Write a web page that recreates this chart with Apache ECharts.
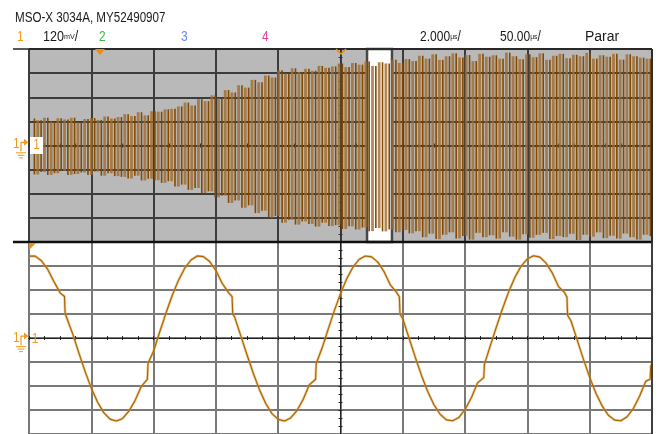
<!DOCTYPE html>
<html>
<head>
<meta charset="utf-8">
<script src="https://cdn.jsdelivr.net/npm/echarts@6/dist/echarts.min.js"></script>
<style>
html, body { margin: 0; padding: 0; background: #fff; }
#chart { width: 670px; height: 434px; }
</style>
</head>
<body>
<div id="chart"></div>
<script>
// upper trace: extreme value reached by each cycle (div), left to right
var topPeaks = [1.12, 1.05, 1.15, 0.98, 1.13, 1.08, 1.15, 0.95, 1.1, 1.14,
  1.06, 1.2, 1.12, 1.18, 1.3, 1.22, 1.38, 1.25, 1.42, 1.4, 1.5,
  1.52, 1.62, 1.78, 1.66, 1.92, 1.84, 2.08, 1.96, 2.3, 2.2,
  2.5, 2.4, 2.72, 2.62, 2.9, 2.82, 3.12, 2.98, 3.2, 3.05, 3.18,
  3.1, 3.3, 3.22, 3.28, 3.4, 3.25, 3.42, 3.35, 3.48, 3.3, 3.45, 3.4,
  3.55, 3.42, 3.58, 3.5,
  3.72, 3.6, 3.78, 3.55, 3.7, 3.82, 3.65, 3.75, 3.5, 3.8, 3.68, 3.74,
  3.6, 3.85, 3.7, 3.58, 3.78, 3.66, 3.82, 3.55, 3.72, 3.8, 3.62, 3.76,
  3.7, 3.84, 3.6, 3.74, 3.68, 3.8, 3.56, 3.78, 3.7, 3.64, 3.6];
var topTroughs = [-1.2, -1.1, -1.22, -1.15, -1.05, -1.22, -1.18, -1.12, -1.22, -1.08,
  -1.25, -1.15, -1.27, -1.3, -1.37, -1.25, -1.45, -1.38, -1.44, -1.55, -1.48,
  -1.7, -1.62, -1.84, -1.76, -1.98, -1.9, -2.15, -2.08, -2.38, -2.28,
  -2.58, -2.48, -2.8, -2.7, -3.0, -2.92, -3.2, -3.08, -3.28, -3.15, -3.25,
  -3.36, -3.2, -3.34, -3.3, -3.46, -3.35, -3.48, -3.4, -3.55, -3.42, -3.56, -3.48,
  -3.6, -3.5, -3.64, -3.55,
  -3.8, -3.65, -3.88, -3.7, -3.6, -3.85, -3.75, -3.9, -3.62, -3.8, -3.72, -3.86,
  -3.6, -3.78, -3.9, -3.68, -3.82, -3.7, -3.62, -3.88, -3.75, -3.8, -3.66, -3.92,
  -3.7, -3.78, -3.6, -3.84, -3.74, -3.86, -3.65, -3.8, -3.9, -3.7, -3.76];
var topStart = -247;     // us
var topPeriod = 5.373;   // us per cycle

// zoom window in the upper view (us)
var zoomWindow = [21.3, 41.3];

// lower trace: [time us, div]
var zoomTrace = [
  [-10.0, 3.41], [-9.8, 3.41], [-9.6, 3.22], [-9.4, 2.86], [-9.2, 2.35], [-9.0, 1.88],
  [-8.86, 1.73], [-8.84, 1.02], [-8.8, 0.97], [-8.6, 0.18], [-8.4, -0.62], [-8.2, -1.39],
  [-8.0, -2.09], [-7.8, -2.67], [-7.6, -3.11], [-7.4, -3.38], [-7.2, -3.46], [-7.0, -3.36],
  [-6.8, -3.06], [-6.6, -2.62], [-6.4, -2.03], [-6.2, -1.72], [-6.18, -1.06], [-6.0, -0.54],
  [-5.8, 0.27], [-5.6, 1.05], [-5.4, 1.78], [-5.2, 2.41], [-5.0, 2.91], [-4.8, 3.25],
  [-4.6, 3.42], [-4.4, 3.39], [-4.2, 3.19], [-4.0, 2.81], [-3.8, 2.28], [-3.6, 1.9],
  [-3.48, 1.72], [-3.46, 1.0], [-3.4, 0.88], [-3.2, 0.09], [-3.0, -0.71], [-2.8, -1.47],
  [-2.6, -2.16], [-2.4, -2.73], [-2.2, -3.15], [-2.0, -3.39], [-1.8, -3.46], [-1.6, -3.33],
  [-1.4, -3.03], [-1.2, -2.56], [-1.0, -1.95], [-0.8, -1.72], [-0.78, -1.06], [-0.6, -0.45],
  [-0.4, 0.35], [-0.2, 1.13], [0.0, 1.85], [0.2, 2.47], [0.4, 2.95], [0.6, 3.28],
  [0.8, 3.42], [1.0, 3.38], [1.2, 3.16], [1.4, 2.76], [1.6, 2.21], [1.8, 1.9],
  [1.89, 1.72], [1.91, 1.0], [2.0, 0.80], [2.2, 0.0], [2.4, -0.80], [2.6, -1.56],
  [2.8, -2.23], [3.0, -2.78], [3.2, -3.18], [3.4, -3.41], [3.6, -3.45], [3.8, -3.31],
  [4.0, -2.98], [4.2, -2.49], [4.4, -1.87], [4.6, -1.65], [4.62, -1.1], [4.8, -0.36],
  [5.0, 0.44], [5.2, 1.22], [5.4, 1.93], [5.6, 2.53], [5.8, 3.0], [6.0, 3.30],
  [6.2, 3.43], [6.4, 3.37], [6.6, 3.12], [6.8, 2.71], [7.0, 2.14], [7.2, 1.88],
  [7.27, 1.70], [7.29, 0.95], [7.4, 0.71], [7.6, -0.09], [7.8, -0.89], [8.0, -1.64],
  [8.2, -2.30], [8.4, -2.83], [8.6, -3.22], [8.8, -3.42], [9.0, -3.45], [9.2, -3.28],
  [9.4, -2.94], [9.6, -2.43], [9.8, -1.80], [9.94, -1.72], [9.96, -1.18], [10.0, -1.06]
];

// upper waveform drawn as its edges: falling (peak -> trough) and rising (trough -> next peak)
var fallEdges = [];
var riseEdges = [];
for (var k = 0; k < topPeaks.length; k++) {
  var t = topStart + k * topPeriod;
  fallEdges.push([t + topPeriod / 4, topPeaks[k], topTroughs[k]]);
  if (k + 1 < topPeaks.length) {
    riseEdges.push([t + topPeriod * 3 / 4, topTroughs[k], topPeaks[k + 1]]);
  }
}

var orange = '#f29a1f';
var hdrFont = '"Liberation Sans", Arial, sans-serif';

function xAxisDef(grid, min, max, step, pos, split, gridColor, axisColor) {
  return {
    type: 'value', gridIndex: grid, min: min, max: max, interval: step, position: pos,
    axisLabel: { show: false },
    axisLine: { show: true, onZero: true, lineStyle: { color: axisColor, width: 1 } },
    axisTick: { show: true, length: 2, lineStyle: { color: axisColor } },
    minorTick: { show: true, splitNumber: 4, length: 2, lineStyle: { color: axisColor } },
    splitLine: { show: split, lineStyle: { color: gridColor, width: 2 } }
  };
}
function yAxisDef(grid, pos, split, gridColor, axisColor) {
  return {
    type: 'value', gridIndex: grid, min: -4, max: 4, interval: 1, position: pos,
    axisLabel: { show: false },
    axisLine: { show: true, onZero: true, lineStyle: { color: axisColor, width: 1 } },
    axisTick: { show: true, length: 2, lineStyle: { color: axisColor } },
    minorTick: { show: true, splitNumber: 3, length: 2, lineStyle: { color: axisColor } },
    splitLine: { show: split, lineStyle: { color: gridColor, width: 2 } }
  };
}

function edgeSeries(data, color, width, z) {
  return {
    type: 'custom', xAxisIndex: 0, yAxisIndex: 0, data: data, z: z, silent: true,
    encode: { x: 0, y: [1, 2] },
    renderItem: function (params, api) {
      var a = api.coord([api.value(0), api.value(1)]);
      var b = api.coord([api.value(0), api.value(2)]);
      return { type: 'line', shape: { x1: a[0], y1: a[1], x2: b[0], y2: b[1] },
        style: { stroke: color, lineWidth: width } };
    }
  };
}

// header text, squeezed horizontally like the scope font
function hdr(txt, x, y, color, sx, rich) {
  return { type: 'text', z: 50, x: x, y: y, scaleX: sx,
    style: { text: txt, x: 0, y: 0, fill: color, font: '14px ' + hdrFont, verticalAlign: 'middle', rich: rich } };
}
var unitRich = { u: { fontSize: 8, fill: '#1a1a1a', fontFamily: hdrFont } };

// channel 1 ground marker at the left
function chMarker(cy) {
  return [
    { type: 'text', z: 50, x: 13, y: cy - 1, scaleX: 0.85, style: { text: '1', x: 0, y: 0, fill: orange, font: '14px ' + hdrFont, verticalAlign: 'middle' } },
    { type: 'polyline', z: 50, shape: { points: [[21, cy + 6], [21, cy - 3], [24, cy - 3]] }, style: { stroke: orange, lineWidth: 1.2, fill: null } },
    { type: 'polygon', z: 50, shape: { points: [[24, cy - 6.5], [24, cy + 0.5], [28.5, cy - 3]] }, style: { fill: orange } },
    { type: 'line', z: 50, shape: { x1: 16, y1: cy + 7.5, x2: 26, y2: cy + 7.5 }, style: { stroke: orange, lineWidth: 1 } },
    { type: 'line', z: 50, shape: { x1: 17.5, y1: cy + 10, x2: 24.5, y2: cy + 10 }, style: { stroke: orange, lineWidth: 1 } },
    { type: 'line', z: 50, shape: { x1: 19, y1: cy + 12.5, x2: 23, y2: cy + 12.5 }, style: { stroke: orange, lineWidth: 1 } }
  ];
}

var chart = echarts.init(document.getElementById('chart'));

var option = {
  animation: false,
  backgroundColor: '#fff',
  grid: [
    { left: 29, top: 49, width: 623, height: 193, show: true, backgroundColor: '#b9b9b9', borderWidth: 0 },
    { left: 29, top: 242, width: 623, height: 194, show: false }
  ],
  xAxis: [
    xAxisDef(0, -250, 250, 50, 'bottom', true, '#3c3c3c', '#333'),
    xAxisDef(0, -250, 250, 50, 'top', false, '#3c3c3c', '#333'),
    xAxisDef(1, -10, 10, 2, 'bottom', true, '#787878', '#222'),
    xAxisDef(1, -10, 10, 2, 'top', false, '#787878', '#222')
  ],
  yAxis: [
    yAxisDef(0, 'left', true, '#3c3c3c', '#333'),
    yAxisDef(0, 'right', false, '#3c3c3c', '#333'),
    yAxisDef(1, 'left', true, '#787878', '#222'),
    yAxisDef(1, 'right', false, '#787878', '#222')
  ],
  series: [
    {
      type: 'line', xAxisIndex: 0, yAxisIndex: 0, data: [], z: 1, silent: true,
      markArea: {
        silent: true,
        itemStyle: { color: '#ffffff', borderColor: '#474747', borderWidth: 2.5 },
        data: [[{ xAxis: zoomWindow[0] }, { xAxis: zoomWindow[1] }]]
      }
    },
    edgeSeries(riseEdges, 'rgba(160,108,48,0.8)', 2.8, 3),
    edgeSeries(fallEdges, '#804a02', 1.6, 4),
    {
      type: 'line', xAxisIndex: 2, yAxisIndex: 2, data: zoomTrace, z: 3, silent: true,
      showSymbol: false, lineStyle: { color: 'rgba(222,160,70,0.6)', width: 2.6 }
    },
    {
      type: 'line', xAxisIndex: 2, yAxisIndex: 2, data: zoomTrace, z: 4, silent: true,
      showSymbol: false, lineStyle: { color: '#a86200', width: 1.1 }
    }
  ],
  graphic: [
    // header
    hdr('MSO-X 3034A, MY52490907', 15, 18.5, '#1a1a1a', 0.83),
    hdr('1', 17, 37, orange, 0.85),
    hdr('120{u|mV}/', 43, 37, '#1a1a1a', 0.9, unitRich),
    hdr('2', 99, 37, '#3cb83c', 0.85),
    hdr('3', 181, 37, '#6a86f0', 0.85),
    hdr('4', 262, 37, '#e8409a', 0.85),
    hdr('2.000{u|µs}/', 420, 37, '#1a1a1a', 0.86, unitRich),
    hdr('50.00{u|µs}/', 500, 37, '#1a1a1a', 0.86, unitRich),
    hdr('Parar', 585, 37, '#1a1a1a', 1),
    // frame lines
    { type: 'line', z: 40, shape: { x1: 13, y1: 49, x2: 652, y2: 49 }, style: { stroke: '#222', lineWidth: 1.5 } },
    { type: 'line', z: 40, shape: { x1: 13, y1: 242, x2: 652, y2: 242 }, style: { stroke: '#111', lineWidth: 2.5 } },
    { type: 'line', z: 40, shape: { x1: 652, y1: 49, x2: 652, y2: 434 }, style: { stroke: '#2a2a2a', lineWidth: 1.5 } },
    // trigger / position markers
    { type: 'polygon', z: 50, shape: { points: [[95, 49], [105, 49], [100, 55]] }, style: { fill: '#f08a10' } },
    { type: 'polyline', z: 50, shape: { points: [[336, 49], [341, 54], [346, 49]] }, style: { stroke: '#f08a10', lineWidth: 1.5, fill: null } },
    { type: 'polygon', z: 50, shape: { points: [[29, 243], [36, 243], [29, 250]] }, style: { fill: '#f08a10' } },
    // channel 1 labels
    { type: 'rect', z: 45, shape: { x: 30, y: 137, width: 13, height: 17 }, style: { fill: '#fff' } },
    { type: 'text', z: 50, x: 36.5, y: 145, scaleX: 0.85, style: { text: '1', x: 0, y: 0, fill: orange, font: '14px ' + hdrFont, align: 'center', verticalAlign: 'middle' } },
    { type: 'text', z: 50, x: 35, y: 339, scaleX: 0.85, style: { text: '1', x: 0, y: 0, fill: orange, font: '14px ' + hdrFont, align: 'center', verticalAlign: 'middle' } }
  ].concat(chMarker(145.3)).concat(chMarker(339.1))
};

chart.setOption(option);
</script>
</body>
</html>
